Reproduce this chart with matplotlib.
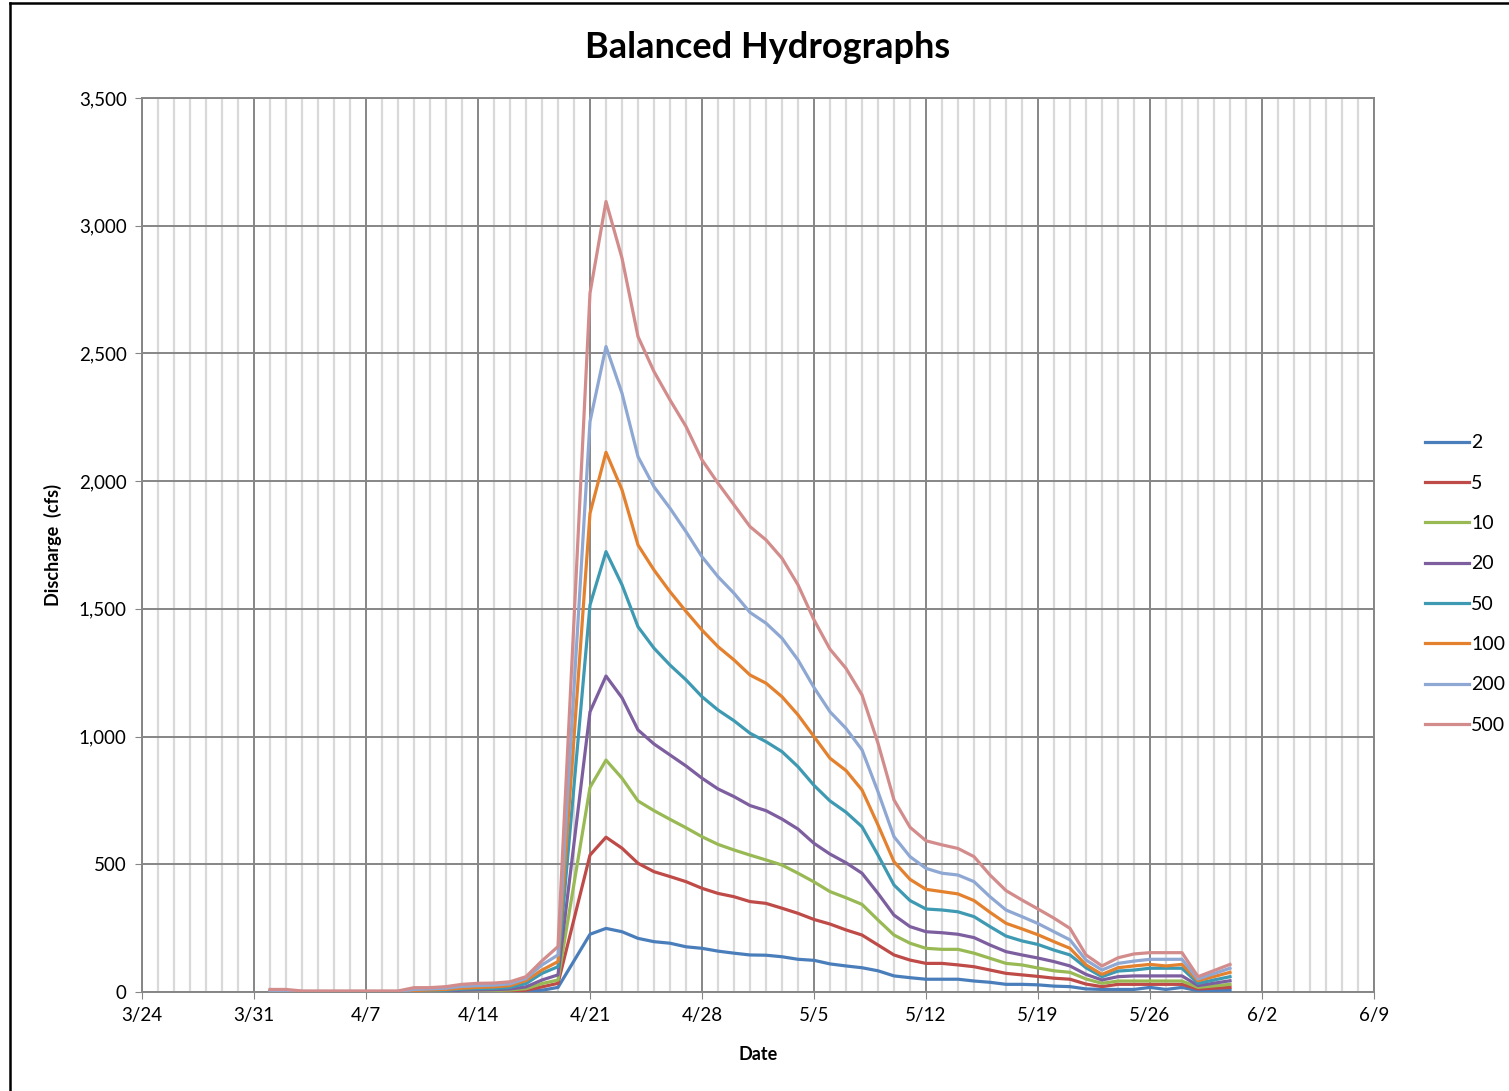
import datetime as dt
import matplotlib
matplotlib.use("Agg")
import matplotlib.pyplot as plt
from matplotlib.lines import Line2D
from matplotlib.ticker import FuncFormatter, FixedLocator

plt.rcParams['font.family'] = ['Lato', 'DejaVu Sans']

# dates of the balanced hydrograph ordinates (no 4/20 and 5/30 in the source data)
dates = ([dt.date(2011, 4, d) for d in range(1, 20)]
         + [dt.date(2011, 4, d) for d in range(21, 31)]
         + [dt.date(2011, 5, d) for d in range(1, 30)]
         + [dt.date(2011, 5, 31)])

q2 = ([0, 0, 0, 0, 0, 0, 0, 0, 0, 0, 0, 0, 1, 1, 1, 2, 3, 7, 18]
      + [226, 249, 236, 210, 197, 191, 177, 171, 160, 152, 145, 144, 138, 128, 124, 110]
      + [102, 95, 83, 63, 56, 50, 50, 50, 43, 38, 30, 30, 28]
      + [23, 21, 12, 10, 10, 10, 18, 10, 18, 5, 7])
q5 = ([0, 0, 0, 0, 0, 0, 0, 0, 0, 0, 1, 2, 3, 4, 4, 5, 7, 20, 34]
      + [536, 606, 563, 504, 471, 452, 432, 406, 386, 373, 354, 347, 328, 308, 284, 266]
      + [243, 223, 184, 145, 125, 112, 112, 106, 99, 86, 73, 67, 61]
      + [54, 50, 31, 21, 30, 30, 30, 30, 30, 12, 18])
q10 = ([0, 0, 0, 0, 0, 0, 0, 0, 0, 1, 2, 3, 5, 6, 6, 8, 13, 33, 47]
       + [801, 908, 837, 748, 710, 676, 643, 608, 578, 556, 536, 517, 497, 465, 431, 393]
       + [369, 343, 282, 223, 191, 171, 167, 167, 152, 132, 112, 106, 94]
       + [83, 77, 51, 34, 43, 43, 43, 43, 43, 18, 30])
q20 = ([0, 0, 0, 0, 0, 0, 0, 0, 0, 2, 3, 4, 7, 8, 9, 12, 20, 47, 67]
       + [1097, 1237, 1152, 1026, 971, 928, 885, 837, 795, 765, 730, 710, 677, 638, 582, 540]
       + [506, 465, 386, 301, 256, 236, 232, 226, 213, 184, 158, 145, 133]
       + [119, 102, 69, 47, 60, 63, 63, 63, 63, 25, 44])
q50 = ([1, 1, 0, 0, 0, 0, 0, 0, 0, 4, 5, 7, 11, 13, 14, 18, 33, 73, 99]
       + [1515, 1724, 1594, 1430, 1346, 1280, 1222, 1156, 1104, 1062, 1013, 980, 941, 882, 809, 748]
       + [704, 647, 536, 419, 358, 325, 321, 314, 295, 256, 219, 200, 186]
       + [164, 145, 95, 60, 82, 86, 93, 93, 93, 34, 60])
q100 = ([2, 2, 1, 1, 1, 1, 1, 1, 1, 6, 8, 10, 15, 18, 20, 25, 45, 86, 119]
        + [1874, 2113, 1966, 1750, 1652, 1567, 1490, 1417, 1352, 1300, 1241, 1209, 1156, 1085, 1000, 915]
        + [867, 791, 654, 510, 441, 402, 393, 384, 358, 312, 269, 247, 224]
        + [197, 171, 106, 69, 95, 102, 108, 102, 108, 44, 77])
q200 = ([5, 5, 2, 2, 2, 2, 2, 2, 2, 10, 12, 15, 22, 25, 27, 32, 53, 106, 145]
        + [2233, 2527, 2344, 2096, 1978, 1894, 1802, 1704, 1626, 1561, 1486, 1444, 1385, 1300, 1192, 1097]
        + [1032, 948, 784, 608, 530, 484, 465, 458, 432, 373, 321, 295, 268]
        + [236, 204, 125, 86, 112, 121, 128, 128, 128, 51, 93])
q500 = ([10, 10, 4, 4, 4, 4, 4, 4, 4, 17, 17, 21, 30, 34, 35, 40, 60, 122, 178]
        + [2736, 3095, 2873, 2566, 2429, 2318, 2214, 2083, 1992, 1907, 1822, 1770, 1698, 1594, 1457, 1342]
        + [1267, 1163, 974, 752, 645, 592, 576, 562, 530, 458, 397, 360, 325]
        + [289, 249, 145, 102, 134, 149, 154, 154, 154, 60, 108])

labels = ['2', '5', '10', '20', '50', '100', '200', '500']
series = [q2, q5, q10, q20, q50, q100, q200, q500]
colors = ['#4A7EBB', '#BE4B48', '#98B954', '#7D5FA0',
          '#3E9AB2', '#E3812F', '#8EA8D3', '#D38C8C']

x_start = dt.date(2011, 3, 24)
x_end = dt.date(2011, 6, 9)

fig = plt.figure(figsize=(15.09, 10.91), dpi=100, facecolor='white')
ax = fig.add_axes([142 / 1509, 1 - 992 / 1091, (1374 - 142) / 1509, (992 - 98) / 1091])

for q, lab, c in zip(series, labels, colors):
    ax.plot(dates, q, color=c, lw=2.3, label=lab, solid_joinstyle='round', zorder=3)

ax.set_xlim(x_start, x_end)
ax.set_ylim(0, 3500)

major = [x_start + dt.timedelta(days=7 * k) for k in range(12)]
minor = [x_start + dt.timedelta(days=k) for k in range(78)]
ax.xaxis.set_major_locator(FixedLocator(matplotlib.dates.date2num(major)))
ax.xaxis.set_minor_locator(FixedLocator(matplotlib.dates.date2num(minor)))
ax.xaxis.set_major_formatter(FuncFormatter(
    lambda v, p: f"{matplotlib.dates.num2date(v).month}/{matplotlib.dates.num2date(v).day}"))
ax.set_yticks(range(0, 3501, 500))
ax.yaxis.set_major_formatter(FuncFormatter(lambda v, p: f"{int(v):,}"))

ax.grid(which='minor', axis='x', color='#D9D9D9', lw=1.6, zorder=0)
ax.grid(which='major', axis='x', color='#868686', lw=1.4, zorder=1)
ax.grid(which='major', axis='y', color='#868686', lw=1.4, zorder=1)
ax.set_axisbelow(True)

for s in ax.spines.values():
    s.set_color('#868686')
    s.set_linewidth(1.4)

ax.tick_params(axis='both', which='major', labelsize=13.5, length=5, color='#868686', pad=6)
ax.tick_params(axis='x', which='minor', length=0)

ax.set_xlabel('Date', fontsize=13, fontweight='bold', labelpad=16)
ax.set_ylabel('Discharge  (cfs)', fontsize=13, fontweight='bold', labelpad=12)

fig.text(768 / 1509, 1 - 47 / 1091, 'Balanced Hydrographs', ha='center', va='center',
         fontsize=26, fontweight='bold')

leg = ax.legend(loc='center left', bbox_to_anchor=(1407 / 1509, 1 - 584 / 1091),
                bbox_transform=fig.transFigure, frameon=False, fontsize=14,
                handlelength=2.3, handletextpad=0.1, labelspacing=1.2)

# outer chart border
fig.add_artist(Line2D([10 / 1509, 10 / 1509], [1 - 3 / 1091, 0], transform=fig.transFigure,
                      color='black', lw=1.8))
fig.add_artist(Line2D([10 / 1509, 1], [1 - 3 / 1091, 1 - 3 / 1091], transform=fig.transFigure,
                      color='black', lw=1.8))

fig.savefig('out.png', dpi=100, facecolor='white')
